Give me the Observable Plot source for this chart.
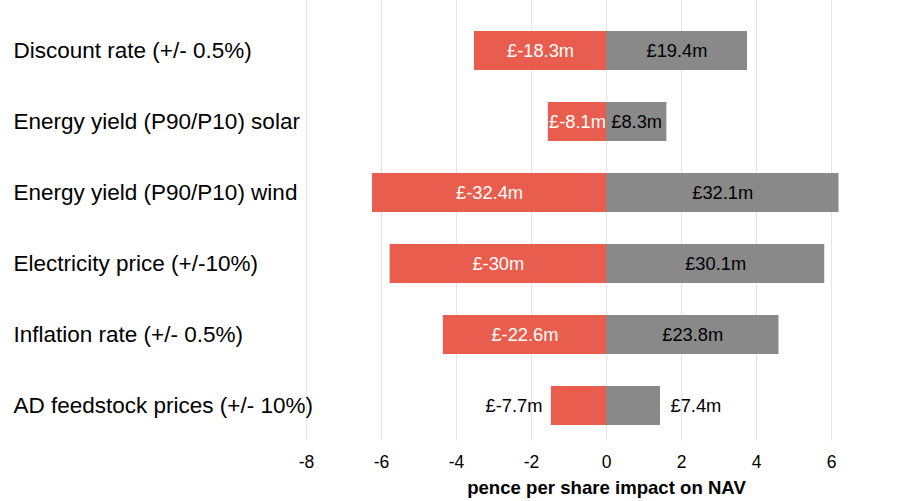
<!DOCTYPE html>
<html><head><meta charset="utf-8">
<script src="https://cdn.jsdelivr.net/npm/d3@7"></script>
<script src="https://cdn.jsdelivr.net/npm/@observablehq/plot@0.6"></script>
<style>body{margin:0;background:#fff;font-family:"Liberation Sans",Arial,sans-serif}svg{display:block}</style>
</head><body><div id="chart"></div>
<script>
const categories = [
  "Discount rate (+/- 0.5%)",
  "Energy yield (P90/P10) solar",
  "Energy yield (P90/P10) wind",
  "Electricity price (+/-10%)",
  "Inflation rate (+/- 0.5%)",
  "AD feedstock prices (+/- 10%)"
];
const lowPence  = [-3.52, -1.55, -6.24, -5.77, -4.35, -1.47];
const highPence = [3.76, 1.61, 6.20, 5.82, 4.60, 1.44];
const lowLabels  = ["£-18.3m", "£-8.1m", "£-32.4m", "£-30m", "£-22.6m", "£-7.7m"];
const highLabels = ["£19.4m", "£8.3m", "£32.1m", "£30.1m", "£23.8m", "£7.4m"];
const labelOutside = [false, false, false, false, false, true];
const xTicks = [-8, -6, -4, -2, 0, 2, 4, 6];
const xTitle = "pence per share impact on NAV";

const rows = categories.map((c, i) => ({
  c, low: lowPence[i], high: highPence[i],
  lowLabel: lowLabels[i], highLabel: highLabels[i], outside: labelOutside[i]
}));
const inside = rows.filter(d => !d.outside);
const outside = rows.filter(d => d.outside);
const RED = "#E85D4D", GREY = "#898989";

const chart = Plot.plot({
  width: 902, height: 501,
  marginLeft: 306, marginRight: 33.5, marginTop: 0, marginBottom: 60.5,
  style: {fontFamily: "'Liberation Sans', Arial, sans-serif", background: "#fff", overflow: "visible"},
  x: {domain: [-8, 7]},
  y: {domain: categories, paddingInner: 0.455, paddingOuter: 0.22, insetTop: 15, axis: null},
  marks: [
    Plot.ruleX(xTicks, {stroke: "#e4e4e4", strokeWidth: 1}),
    Plot.barX(rows, {y: "c", x1: 0, x2: "low", fill: RED}),
    Plot.barX(rows, {y: "c", x1: 0, x2: "high", fill: GREY}),
    Plot.text(inside, {y: "c", x: d => d.low / 2, text: "lowLabel", fill: "white", fontSize: 18.3}),
    Plot.text(inside, {y: "c", x: d => d.high / 2, text: "highLabel", fill: "black", fontSize: 18.3}),
    Plot.text(outside, {y: "c", x: "low", text: "lowLabel", fill: "black", fontSize: 18.3, textAnchor: "end", dx: -9}),
    Plot.text(outside, {y: "c", x: "high", text: "highLabel", fill: "black", fontSize: 18.3, textAnchor: "start", dx: 10}),
    Plot.axisX({ticks: xTicks, tickFormat: d => String(d), tickSize: 0, tickPadding: 15, fontSize: 17.5, label: null, fill: "black"}),
    Plot.text(categories, {y: d => d, text: d => d, frameAnchor: "left", dx: -293, textAnchor: "start", fontSize: 22.5, fill: "black"}),
    Plot.text([xTitle], {x: () => 0, text: d => d, frameAnchor: "bottom", dy: 53, fontWeight: "bold", fontSize: 18.6, fill: "black"})
  ]
});
document.getElementById("chart").appendChild(chart);
</script>
</body></html>
